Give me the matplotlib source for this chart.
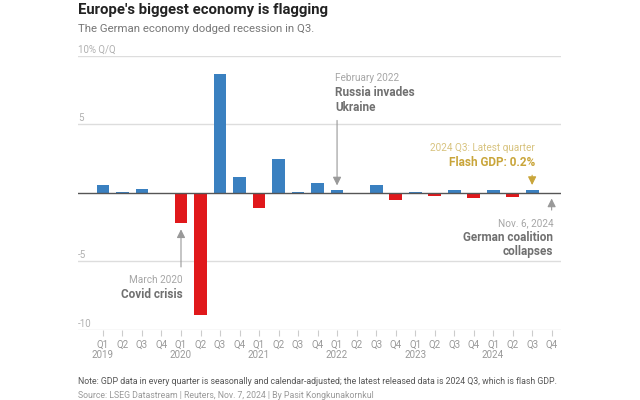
import matplotlib
matplotlib.use('Agg')
import matplotlib.pyplot as plt
from matplotlib import font_manager

# pick a narrow-ish font if one is around
available = {f.name for f in font_manager.fontManager.ttflist}
for name in ['Liberation Sans Narrow', 'Roboto', 'DejaVu Sans']:
    if name in available:
        plt.rcParams['font.family'] = name
        break

# German GDP, % change Q/Q (2024 Q4 not yet released)
quarters = ['Q1', 'Q2', 'Q3', 'Q4'] * 6
years = ['2019', '2020', '2021', '2022', '2023', '2024']
gdp = [0.6, 0.1, 0.3, -0.1,
       -2.2, -8.9, 8.7, 1.2,
       -1.1, 2.5, 0.1, 0.7,
       0.2, 0.0, 0.6, -0.5,
       0.1, -0.2, 0.2, -0.4,
       0.2, -0.3, 0.2]
y_ticks = [10, 5, -5, -10]
y_labels = ['10% Q/Q', '5', '-5', '-10']

BLUE = '#3a80c0'
RED = '#e0181b'
GOLD = '#c9a53a'
GOLD_LIGHT = '#d8c37f'
GREY_DARK = '#707070'
GREY_LIGHT = '#a6a6a6'

fig = plt.figure(figsize=(6.4, 4), dpi=100)
ax = fig.add_axes([78 / 640, 1 - 330 / 400, (561 - 78) / 640, (330 - 56) / 400])
ax.set_xlim(-1.28, 23.48)
ax.set_ylim(-10, 10)

for v in y_ticks:
    ax.axhline(v, color='#dddddd', lw=1, zorder=0)
for v, lab in zip(y_ticks, y_labels):
    ax.text(0, v + 0.08, lab, transform=ax.get_yaxis_transform(),
            ha='left', va='bottom', fontsize=7, color='#b0b0b0')

x = list(range(len(gdp)))
colors = [BLUE if v >= 0 else RED for v in gdp]
ax.bar(x, gdp, width=0.66, color=colors, zorder=2)
ax.axhline(0, color='#555555', lw=1, zorder=3)

ax.set_xticks(range(len(quarters)))
ax.set_xticklabels(quarters)
ax.tick_params(axis='x', length=4, color='#cccccc', labelcolor='#999999',
               labelsize=7, pad=3)
ax.set_yticks([])
for s in ax.spines.values():
    s.set_visible(False)
for i, yr in enumerate(years):
    ax.text(i * 4, -0.09, yr, transform=ax.get_xaxis_transform(),
            ha='center', va='center', fontsize=7, color='#999999')

arrow = dict(arrowstyle='-|>,head_length=0.5,head_width=0.25', color='#999999', lw=0.8)

# Russia
ax.annotate('', xy=(12, 0.35), xytext=(12, 5.5), arrowprops=arrow)
ax.text(11.9, 8.4, 'February 2022', ha='left', va='center', fontsize=7.2, color=GREY_LIGHT)
ax.text(11.9, 7.3, 'Russia invades', ha='left', va='center', fontsize=8.5,
        fontweight='bold', color=GREY_DARK)
ax.text(11.9, 6.25, 'Ukraine', ha='left', va='center', fontsize=8.5,
        fontweight='bold', color=GREY_DARK)

# latest quarter
gold_arrow = dict(arrow, color=GOLD)
ax.annotate('', xy=(22, 0.38), xytext=(22, 1.5), arrowprops=gold_arrow)
ax.text(22.15, 3.3, '2024 Q3: Latest quarter', ha='right', va='center',
        fontsize=7.2, color=GOLD_LIGHT)
ax.text(22.15, 2.25, 'Flash GDP: 0.2%', ha='right', va='center', fontsize=8.5,
        fontweight='bold', color=GOLD)

# coalition
ax.annotate('', xy=(23, -0.2), xytext=(23, -1.45), arrowprops=arrow)
ax.text(23.08, -2.2, 'Nov. 6, 2024', ha='right', va='center', fontsize=7.2, color=GREY_LIGHT)
ax.text(23.08, -3.25, 'German coalition', ha='right', va='center', fontsize=8.5,
        fontweight='bold', color=GREY_DARK)
ax.text(23.08, -4.3, 'collapses', ha='right', va='center', fontsize=8.5,
        fontweight='bold', color=GREY_DARK)

# covid
ax.annotate('', xy=(4, -2.45), xytext=(4, -5.6), arrowprops=arrow)
ax.text(4.1, -6.35, 'March 2020', ha='right', va='center', fontsize=7.2, color=GREY_LIGHT)
ax.text(4.1, -7.4, 'Covid crisis', ha='right', va='center', fontsize=8.5,
        fontweight='bold', color=GREY_DARK)

fig.text(78 / 640, 1 - 10 / 400, "Europe's biggest economy is flagging", ha='left',
         va='center', fontsize=10.7, fontweight='bold', color='#222222')
fig.text(78 / 640, 1 - 29 / 400, 'The German economy dodged recession in Q3.',
         ha='left', va='center', fontsize=8.2, color='#777777')
fig.text(78 / 640, 1 - 381 / 400,
         'Note: GDP data in every quarter is seasonally and calendar-adjusted; '
         'the latest released data is 2024 Q3, which is flash GDP.',
         ha='left', va='center', fontsize=6.3, color='#555555')
fig.text(78 / 640, 1 - 395 / 400,
         'Source: LSEG Datastream | Reuters, Nov. 7, 2024 | By Pasit Kongkunakornkul',
         ha='left', va='center', fontsize=6.3, color='#999999')

fig.savefig('out.png', dpi=100)
